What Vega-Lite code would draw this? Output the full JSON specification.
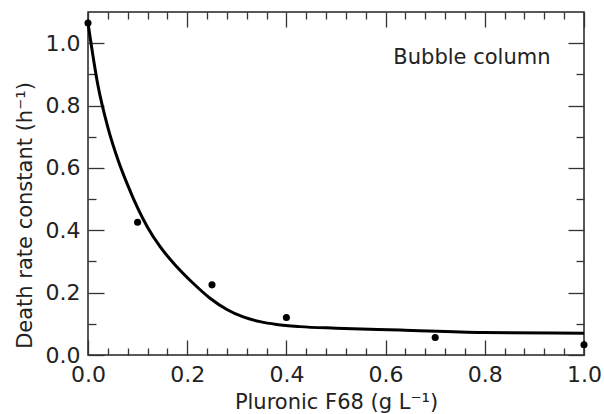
{
  "$schema": "https://vega.github.io/schema/vega-lite/v6.json",
  "width": 496,
  "height": 343,
  "autosize": {"type": "none"},
  "padding": {"left": 88, "top": 12, "right": 20, "bottom": 59},
  "config": {
    "view": {"stroke": "#222", "strokeWidth": 1.5},
    "font": "DejaVu Sans",
    "axis": {"grid": false, "domain": false, "labelFlush": false, "labelOverlap": false, "tickColor": "#333", "tickWidth": 1.3, "labelColor": "#222", "titleColor": "#222", "labelFont": "DejaVu Sans", "titleFont": "DejaVu Sans", "labelFontSize": 22, "titleFontSize": 21, "titleFontWeight": "normal"}
  },
  "datasets": {
    "points": [
      {"conc": 0.0, "rate": 1.065},
      {"conc": 0.1, "rate": 0.426},
      {"conc": 0.25, "rate": 0.225},
      {"conc": 0.4, "rate": 0.12},
      {"conc": 0.7, "rate": 0.056},
      {"conc": 1.0, "rate": 0.033}
    ],
    "curve": [
      {"conc": 0.0, "rate": 1.065},
      {"conc": 0.02, "rate": 0.865},
      {"conc": 0.04, "rate": 0.73},
      {"conc": 0.06, "rate": 0.628},
      {"conc": 0.08, "rate": 0.545},
      {"conc": 0.1, "rate": 0.472},
      {"conc": 0.12, "rate": 0.41},
      {"conc": 0.145, "rate": 0.348},
      {"conc": 0.179, "rate": 0.283},
      {"conc": 0.212, "rate": 0.23},
      {"conc": 0.246, "rate": 0.182},
      {"conc": 0.28, "rate": 0.146},
      {"conc": 0.313, "rate": 0.122},
      {"conc": 0.347, "rate": 0.107},
      {"conc": 0.38, "rate": 0.098},
      {"conc": 0.427, "rate": 0.091},
      {"conc": 0.5, "rate": 0.086},
      {"conc": 0.629, "rate": 0.08},
      {"conc": 0.797, "rate": 0.072},
      {"conc": 1.0, "rate": 0.07}
    ],
    "label": [{"conc": 0.774, "rate": 0.953, "text": "Bubble column"}]
  },
  "resolve": {"axis": {"x": "independent", "y": "independent"}},
  "layer": [
    {
      "data": {"name": "curve"},
      "mark": {"type": "line", "color": "black", "strokeWidth": 3, "interpolate": "monotone"},
      "encoding": {
        "x": {"field": "conc", "type": "quantitative", "scale": {"domain": [0, 1], "nice": false},
          "axis": {"orient": "bottom", "values": [0, 0.2, 0.4, 0.6, 0.8, 1.0], "format": ".1f", "ticks": false, "labelPadding": 9, "title": "Pluronic F68 (g L⁻¹)", "titleY": 53, "titleBaseline": "alphabetic"}},
        "y": {"field": "rate", "type": "quantitative", "scale": {"domain": [0, 1.1], "nice": false},
          "axis": {"orient": "left", "values": [0, 0.2, 0.4, 0.6, 0.8, 1.0], "format": ".1f", "ticks": false, "labelPadding": 8, "title": "Death rate constant (h⁻¹)", "titleAngle": -90, "titleX": -63, "titleY": 203, "titleAlign": "center", "titleBaseline": "middle"}}
      }
    },
    {
      "data": {"name": "points"},
      "mark": {"type": "point", "filled": true, "color": "black", "opacity": 1, "size": 50},
      "encoding": {
        "x": {"field": "conc", "type": "quantitative",
          "axis": {"orient": "bottom", "values": [0, 0.2, 0.4, 0.6, 0.8, 1.0], "labels": false, "tickSize": -15, "title": null}},
        "y": {"field": "rate", "type": "quantitative",
          "axis": {"orient": "left", "values": [0, 0.2, 0.4, 0.6, 0.8, 1.0], "labels": false, "tickSize": -16, "title": null}}
      }
    },
    {
      "data": {"name": "points"},
      "mark": {"type": "point", "opacity": 0},
      "encoding": {
        "x": {"field": "conc", "type": "quantitative",
          "axis": {"orient": "bottom", "values": [0.04, 0.08, 0.12, 0.16, 0.24, 0.28, 0.32, 0.36, 0.44, 0.48, 0.52, 0.56, 0.64, 0.68, 0.72, 0.76, 0.84, 0.88, 0.92, 0.96], "labels": false, "tickSize": -7, "title": null}},
        "y": {"field": "rate", "type": "quantitative",
          "axis": {"orient": "left", "values": [0.1, 0.3, 0.5, 0.7, 0.9], "labels": false, "tickSize": -8, "title": null}}
      }
    },
    {
      "data": {"name": "points"},
      "mark": {"type": "point", "opacity": 0},
      "encoding": {
        "x": {"field": "conc", "type": "quantitative",
          "axis": {"orient": "top", "values": [0, 0.2, 0.4, 0.6, 0.8, 1.0], "labels": false, "tickSize": -15, "title": null}},
        "y": {"field": "rate", "type": "quantitative",
          "axis": {"orient": "right", "values": [0, 0.2, 0.4, 0.6, 0.8, 1.0], "labels": false, "tickSize": -16, "title": null}}
      }
    },
    {
      "data": {"name": "points"},
      "mark": {"type": "point", "opacity": 0},
      "encoding": {
        "x": {"field": "conc", "type": "quantitative",
          "axis": {"orient": "top", "values": [0.04, 0.08, 0.12, 0.16, 0.24, 0.28, 0.32, 0.36, 0.44, 0.48, 0.52, 0.56, 0.64, 0.68, 0.72, 0.76, 0.84, 0.88, 0.92, 0.96], "labels": false, "tickSize": -7, "title": null}},
        "y": {"field": "rate", "type": "quantitative",
          "axis": {"orient": "right", "values": [0.1, 0.3, 0.5, 0.7, 0.9], "labels": false, "tickSize": -8, "title": null}}
      }
    },
    {
      "data": {"name": "label"},
      "mark": {"type": "text", "font": "DejaVu Sans", "fontSize": 21, "color": "#222", "align": "center", "baseline": "middle"},
      "encoding": {
        "x": {"field": "conc", "type": "quantitative", "axis": null},
        "y": {"field": "rate", "type": "quantitative", "axis": null},
        "text": {"field": "text"}
      }
    }
  ]
}
